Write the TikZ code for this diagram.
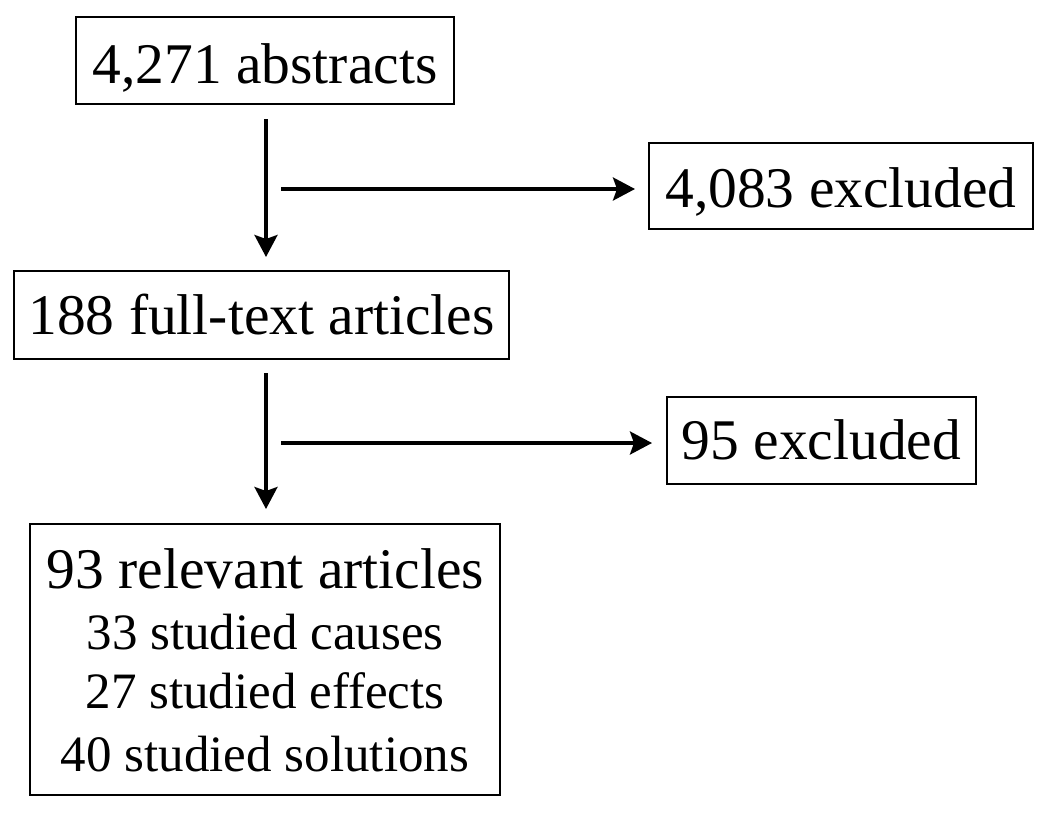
\documentclass[tikz,border=0pt]{standalone}
\usepackage{fontspec}
\setmainfont{Liberation Serif}
\usetikzlibrary{arrows.meta}
\begin{document}
\begin{tikzpicture}[x=1pt,y=-1pt,
  box/.style={draw, line width=2pt, inner sep=0pt, text depth=0pt,
    font=\fontsize{57.5pt}{60pt}\selectfont},
  sub/.style={inner sep=0pt, anchor=base, font=\fontsize{51pt}{54pt}\selectfont},
  arr/.style={line width=3.5pt, -{Stealth[length=22pt, width=23pt, inset=4pt]}}]
\useasboundingbox[fill=white] (0,0) rectangle (1050,812);

\node[box, minimum width=378pt, minimum height=87pt, text height=45pt] (abs) at (265,60.5) {4,271 abstracts};
\node[box, minimum width=384pt, minimum height=86pt, text height=42pt] (ex1) at (841,186) {4,083 excluded};
\node[box, minimum width=495pt, minimum height=88pt, text height=38pt] (ft) at (261.5,315) {188 full-text articles};
\node[box, minimum width=309pt, minimum height=87pt, text height=37pt] (ex2) at (821.5,440.5) {95 excluded};
\node[box, minimum width=470pt, minimum height=271pt] (res) at (265,659.5) {};

\node[sub, font=\fontsize{57.5pt}{60pt}\selectfont] (r1) at (265.5,588) {93 relevant articles};
\node[sub] (r2) at (265,649) {33 studied causes};
\node[sub] (r3) at (265,708) {27 studied effects};
\node[sub] (r4) at (265,771) {40 studied solutions};

\coordinate (col) at (266,0);
\coordinate (h1) at (281,189);
\coordinate (h2) at (281,443);

\draw[arr, shorten <=14pt, shorten >=13pt] (col |- abs.south) -- (col |- ft.north);
\draw[arr, shorten >=13pt] (h1) -- (h1 -| ex1.west);
\draw[arr, shorten <=13pt, shorten >=14pt] (col |- ft.south) -- (col |- res.north);
\draw[arr, shorten >=14pt] (h2) -- (h2 -| ex2.west);
\end{tikzpicture}
\end{document}
